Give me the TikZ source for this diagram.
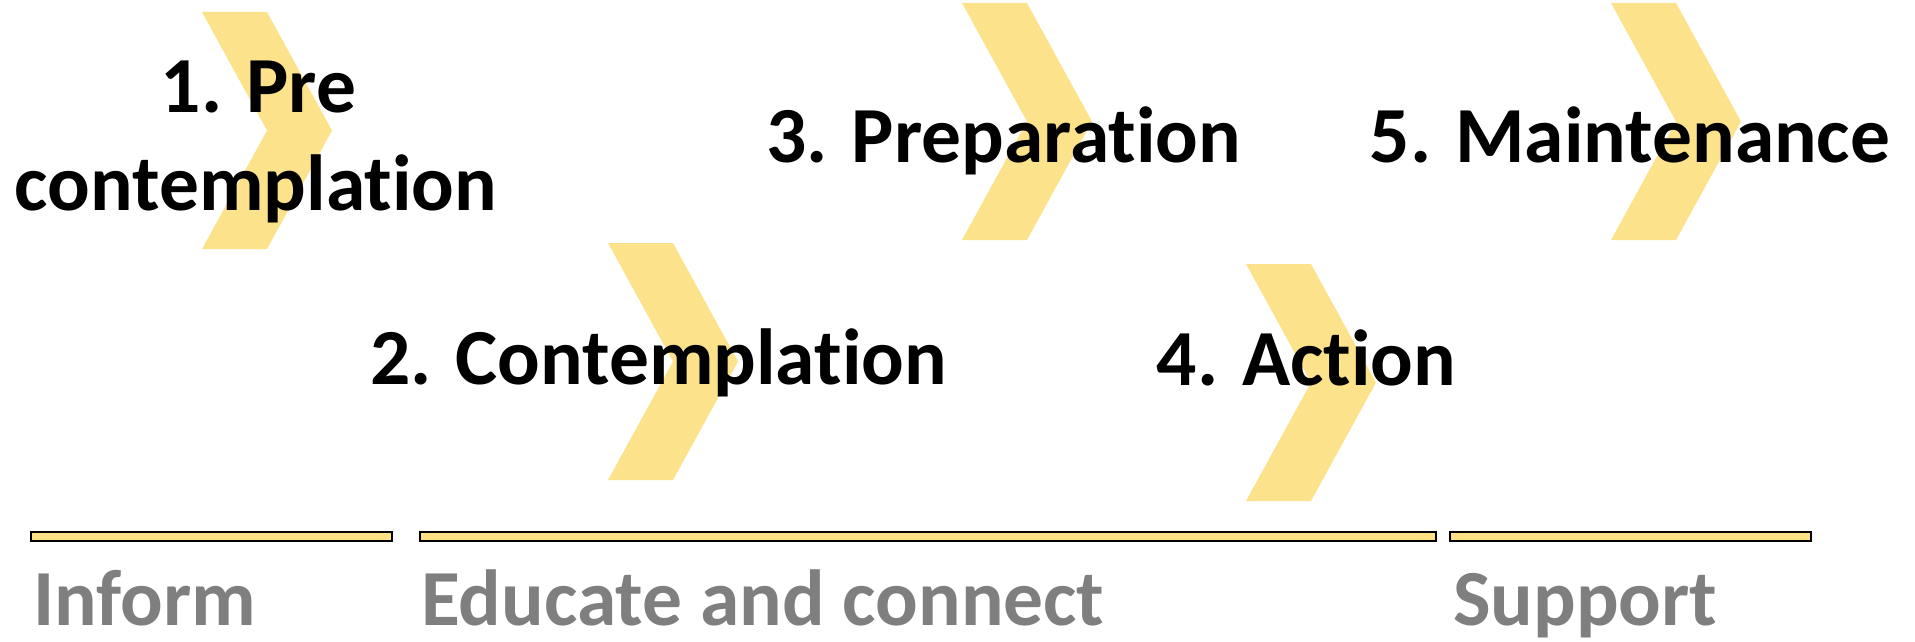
\documentclass[tikz,border=0pt]{standalone}
\usepackage{fontspec}
\setmainfont{Carlito}[Ligatures=NoCommon]
\definecolor{chevfill}{RGB}{252,226,138}
\definecolor{barfill}{RGB}{255,224,130}
\definecolor{phasegray}{RGB}{127,127,127}
\tikzset{
  stagechev/.style={fill=chevfill},
  stagetext/.style={anchor=base, inner sep=0pt, font=\fontsize{79.5}{95}\selectfont\bfseries, text=black},
  phasebar/.style={fill=barfill, draw=black, line width=2.7pt},
  phasetext/.style={anchor=base west, inner sep=0pt, font=\fontsize{79.5}{95}\selectfont\bfseries, text=phasegray}
}
% chevron: top-left corner (#1,#2)
\newcommand{\stagechevron}[2]{%
  \fill[stagechev] (#1,#2) -- ++(65,0) -- ++(65,118.5) -- ++(-65,118.5)
    -- ++(-65,0) -- ++(65,-118.5) -- cycle;}
\begin{document}
\begin{tikzpicture}[x=1pt,y=-1pt]
\useasboundingbox (0,0) rectangle (1915,642);

% stage chevrons
\stagechevron{202}{12}
\stagechevron{608}{243}
\stagechevron{962}{3}
\stagechevron{1246}{264}
\stagechevron{1611}{3}

% stage names
\node[stagetext] (s1a) at (258.5,113) {1. Pre};
\node[stagetext] (s1b) at (256,210) {contemplation};
\node[stagetext] (s2) at (658.5,384) {2. Contemplation};
\node[stagetext] (s3) at (1003.7,162) {3. Preparation};
\node[stagetext] (s4) at (1306.5,385) {4. Action};
\node[stagetext] (s5) at (1630,162) {5. Maintenance};

% phase bars
\draw[phasebar] (31,532) rectangle (392,541);
\draw[phasebar] (420,532) rectangle (1436,541);
\draw[phasebar] (1450,532) rectangle (1811,541);

% phase names
\node[phasetext] (p1) at (33,625) {Inform};
\node[phasetext] (p2) at (421,625) {Educate and connect};
\node[phasetext] (p3) at (1453,625) {Support};
\end{tikzpicture}
\end{document}
